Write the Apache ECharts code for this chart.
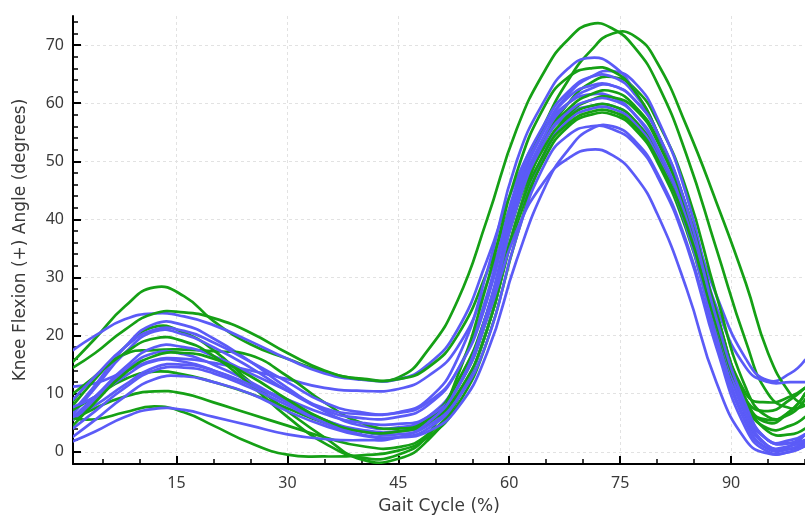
<!DOCTYPE html>
<html><head><meta charset="utf-8">
<script src="https://cdn.jsdelivr.net/npm/echarts@6/dist/echarts.min.js"></script>
<style>html,body{margin:0;padding:0;background:#fff}#c{width:805px;height:515px}</style>
</head><body><div id="c"></div>
<script>
// Gait cycle sample positions (%)
const gaitX = [1, 4, 8, 12, 16, 20, 25, 30, 35, 40, 45, 49, 53, 57, 61, 65, 68, 71, 74, 77, 80, 84, 88, 92, 95, 98, 100];

// Green group (knee flexion, degrees)
const green1 = [15.5, 19.5, 25, 28.3, 26.8, 22.5, 18.5, 16, 13.8, 12.6, 12.8, 17.5, 26, 40, 55.5, 66, 71, 73.6, 72.8, 69.5, 63.5, 51, 35, 19, 10, 7.5, 8];
const green2 = [14.5, 17, 21, 23.8, 24, 23, 20.5, 17, 14, 12.5, 12.5, 14.5, 20, 31, 45, 57, 64, 69, 72, 71.5, 67, 56, 43, 29, 17, 10, 8];
const green3 = [8, 12.5, 18, 21.5, 20.5, 17.5, 12, 7, 2.5, -1.3, -1.2, 2, 9, 21, 40, 54, 60, 63.5, 64.5, 62.5, 57, 45, 27, 11, 6, 6.5, 9];
const green4 = [8.7, 13, 16.8, 17.5, 17.6, 17.3, 16.6, 13, 8.5, 5, 4, 5.5, 11, 23, 42, 54, 59, 61.5, 62, 59.5, 54, 42, 24, 10, 8.5, 9.5, 11];
const green5 = [7.2, 9.5, 12.5, 13.8, 13.3, 12, 10, 7.5, 5, 3.5, 3.5, 5.5, 12, 24, 42, 53, 57.5, 59.5, 59.5, 57, 51, 39, 21, 8, 5.5, 7, 10];
const green6 = [5.5, 7.5, 9.5, 10.4, 10, 8.5, 6.5, 4.5, 2.5, 1, 0.8, 3, 9, 21, 39, 51, 56, 58, 58, 55.5, 50, 38, 21, 8, 4, 4.5, 6];
const green7 = [5.8, 5.6, 6.8, 7.8, 6.8, 4.5, 1.5, -0.5, -0.8, -0.6, 0.2, 2.5, 8, 19, 37, 52, 58, 60.5, 61, 59, 53.5, 41, 23, 9, 3.5, 3, 4];
const green8 = [10, 13, 17, 19.5, 19, 16.5, 11.5, 6, 1.5, -1, -0.5, 3, 13, 29, 48, 60, 64.5, 66, 65.5, 62, 55, 42, 24, 9, 5, 7, 10];
const green9 = [4.5, 8.5, 13.5, 16.5, 17, 16, 13, 9, 5.5, 3.5, 3.5, 5, 10, 21, 40, 52, 56.5, 58.5, 58.5, 56, 50.5, 39, 22, 9, 7, 9, 11];

// Blue group (knee flexion, degrees)
const blue1 = [17.5, 20, 22.8, 23.8, 23.3, 21.8, 19, 16, 13.5, 12.4, 12.5, 15, 21, 33, 47, 56, 60, 61.5, 61, 58, 52, 41, 27, 16, 12.3, 13.5, 15.8];
const blue2 = [11.2, 11.8, 13.8, 15.8, 16, 15.3, 14, 12.5, 11, 10.5, 10.8, 13, 18, 29, 44, 54, 58, 59.5, 59.5, 57, 51.5, 40, 25, 14.5, 12, 12, 12];
const blue3 = [7, 11.5, 18, 22, 21.8, 19.5, 15.5, 11, 7, 4.5, 4.2, 6, 12, 24, 44, 56, 61.5, 64.5, 65.5, 63.5, 57.5, 44, 24, 8, 2, 1.5, 2];
const blue4 = [6.5, 11, 17, 20.7, 20.2, 18, 14.5, 10.5, 7.2, 5.8, 6, 8, 14, 27, 46, 57, 62, 64.5, 64.5, 61.5, 55, 41, 22, 6, 1, 1, 2];
const blue5 = [6, 9.5, 14.5, 18, 18, 16.5, 13.5, 10.5, 7.5, 6.5, 6.8, 9, 16, 31, 50, 61, 66, 67.8, 66.5, 62, 55, 41, 21, 5, 0.5, 1, 3];
const blue6 = [5.5, 9, 14, 17, 16.8, 15, 12, 8.5, 5.5, 3.8, 3.5, 5, 11, 24, 43, 55, 60, 62.5, 63, 60.5, 55, 42, 23, 7, 1, 0.5, 1.5];
const blue7 = [7.7, 9.5, 13, 15.6, 15.5, 14, 11.5, 9, 6.5, 5, 4.8, 6, 11, 23, 42, 54, 58.5, 60.5, 60.5, 58, 52.5, 40, 22, 7, 2, 1.5, 3];
const blue8 = [6, 8, 11.5, 14.5, 15, 14, 11.5, 8.5, 5.5, 3.5, 3, 4.5, 9.5, 21, 40, 52, 57, 59, 59, 56.5, 51, 38.5, 20, 5, 0.5, 0.5, 2];
const blue9 = [2.6, 5.5, 9.5, 12.5, 13, 12, 10, 7, 4.5, 2.8, 2.5, 4, 9, 19, 37, 50, 54.5, 56, 55.5, 53, 47.5, 35.5, 18, 4, 0, 0, 1];
const blue10 = [1.8, 3.5, 6, 7.4, 7.2, 6, 4.5, 3, 2.2, 2, 2.5, 5, 11, 23, 38, 47, 50.5, 52, 51, 47.5, 41, 28, 12, 2, -0.3, 0, 1];
const blue11 = [9, 13, 18, 21, 20.8, 18.8, 15.5, 12, 8.5, 6.8, 6.7, 8.5, 14, 26, 45, 56, 61, 63, 63, 60.5, 55, 42, 23, 8, 2, 2, 3];
const blue12 = [4, 7, 11, 14, 14.5, 13.5, 11, 8, 5, 3, 2.5, 3.5, 7.5, 17, 33, 46, 52, 55.5, 56, 53.5, 48, 36, 19, 5, 0.5, 1, 2];

// Tick labels
const xMajorTicks = [15, 30, 45, 60, 75, 90];
const xMinorTicks = [5, 10, 20, 25, 35, 40, 50, 55, 65, 70, 80, 85, 95, 100];
const yMajorTicks = [0, 10, 20, 30, 40, 50, 60, 70];
const yMinorTicks = [2, 4, 6, 8, 12, 14, 16, 18, 22, 24, 26, 28, 32, 34, 36, 38, 42, 44, 46, 48, 52, 54, 56, 58, 62, 64, 66, 68, 72, 74];

const xTitle = 'Gait Cycle (%)';
const yTitle = 'Knee Flexion (+) Angle (degrees)';

const greens = [green1, green2, green3, green4, green5, green6, green7, green8, green9];
const blues = [blue1, blue2, blue3, blue4, blue5, blue6, blue7, blue8, blue9, blue10, blue11, blue12];

const GREEN = '#15a015';
const BLUE = '#5b5bf7';
const FONT = 'Noto Sans';
const NAME_FONT = 'DejaVu Sans';

// Each curve: a custom series whose points are placed by the axes (api.coord)
// and joined with a smooth spline.
function mk(arr, color) {
  const pts = gaitX.map((x, i) => [x, arr[i]]);
  return {
    type: 'custom', xAxisIndex: 0, yAxisIndex: 0,
    coordinateSystem: 'cartesian2d',
    data: pts, encode: { x: 0, y: 1 },
    clip: true, silent: true, animation: false,
    renderItem: function (params, api) {
      if (params.dataIndex !== 0) return null;
      const coords = pts.map(p => api.coord(p));
      const cs = params.coordSys;
      return {
        type: 'polyline',
        shape: { points: coords, smooth: 0.5 },
        style: { stroke: color, lineWidth: 2.7, fill: null, lineJoin: 'round', lineCap: 'round' },
        clipPath: { type: 'rect', shape: { x: cs.x, y: cs.y, width: cs.width, height: cs.height } },
        silent: true
      };
    }
  };
}
const series = [];
const n = Math.max(greens.length, blues.length);
for (let i = 0; i < n; i++) {
  if (i < greens.length) series.push(mk(greens[i], GREEN));
  if (i < blues.length) series.push(mk(blues[i], BLUE));
}

const chart = echarts.init(document.getElementById('c'), null, { renderer: 'canvas' });
const axisLineStyle = { color: '#000', width: 2 };
chart.setOption({
  animation: false,
  backgroundColor: '#fff',
  grid: { left: 73, right: 0, top: 16, bottom: 51, containLabel: false, outerBoundsMode: 'none' },
  xAxis: [
    {
      type: 'value', min: 1, max: 100, position: 'bottom',
      axisLine: { show: true, onZero: false, lineStyle: axisLineStyle },
      axisTick: { show: true, inside: true, length: 8, customValues: xMajorTicks, lineStyle: { color: '#000', width: 2 } },
      axisLabel: { show: true, customValues: xMajorTicks, fontSize: 16, color: '#3a3a3a', margin: 11, fontFamily: FONT },
      splitLine: { show: true, lineStyle: { type: [3, 3], color: '#e2e2e2', width: 1 } },
      name: xTitle, nameLocation: 'middle', nameGap: 34,
      nameTextStyle: { fontSize: 17, color: '#3a3a3a', fontFamily: NAME_FONT }
    },
    {
      type: 'value', min: 1, max: 100, position: 'bottom',
      axisLine: { show: false, onZero: false },
      axisTick: { show: true, inside: true, length: 5, customValues: xMinorTicks, lineStyle: { color: '#000', width: 1.5 } },
      axisLabel: { show: false },
      splitLine: { show: false }
    }
  ],
  yAxis: [
    {
      type: 'value', min: -2.1, max: 75, position: 'left',
      axisLine: { show: true, onZero: false, lineStyle: axisLineStyle },
      axisTick: { show: true, inside: true, length: 8, customValues: yMajorTicks, lineStyle: { color: '#000', width: 2 } },
      axisLabel: { show: true, customValues: yMajorTicks, fontSize: 16, color: '#3a3a3a', margin: 9, fontFamily: FONT },
      splitLine: { show: true, lineStyle: { type: [3, 3], color: '#e2e2e2', width: 1 } },
      name: yTitle, nameLocation: 'middle', nameGap: 44,
      nameTextStyle: { fontSize: 17, color: '#3a3a3a', fontFamily: NAME_FONT }
    },
    {
      type: 'value', min: -2.1, max: 75, position: 'left',
      axisLine: { show: false, onZero: false },
      axisTick: { show: true, inside: true, length: 5, customValues: yMinorTicks, lineStyle: { color: '#000', width: 1.5 } },
      axisLabel: { show: false },
      splitLine: { show: false }
    }
  ],
  series: series
});
</script>
</body></html>
